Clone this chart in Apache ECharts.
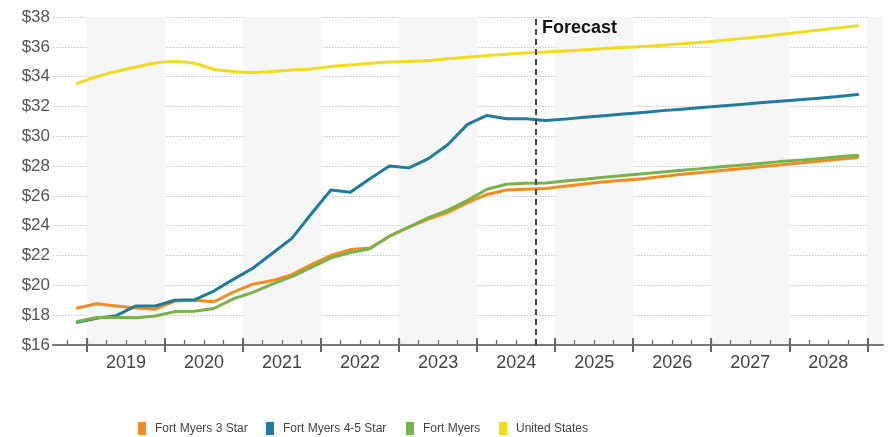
<!DOCTYPE html>
<html>
<head>
<meta charset="utf-8">
<script src="https://cdn.jsdelivr.net/npm/echarts@6/dist/echarts.min.js"></script>
<style>
html,body{margin:0;padding:0;background:#fff;}
#chart{width:888px;height:437px;}
</style>
</head>
<body>
<div id="chart"></div>
<script>
// ---- data ----
const quarters = [
  '2018 Q4',
  '2019 Q1','2019 Q2','2019 Q3','2019 Q4',
  '2020 Q1','2020 Q2','2020 Q3','2020 Q4',
  '2021 Q1','2021 Q2','2021 Q3','2021 Q4',
  '2022 Q1','2022 Q2','2022 Q3','2022 Q4',
  '2023 Q1','2023 Q2','2023 Q3','2023 Q4',
  '2024 Q1','2024 Q2','2024 Q3','2024 Q4',
  '2025 Q1','2025 Q2','2025 Q3','2025 Q4',
  '2026 Q1','2026 Q2','2026 Q3','2026 Q4',
  '2027 Q1','2027 Q2','2027 Q3','2027 Q4',
  '2028 Q1','2028 Q2','2028 Q3','2028 Q4'
];
const yearLabels = ['2019','2020','2021','2022','2023','2024','2025','2026','2027','2028'];
const shadedYears = [2019, 2021, 2023, 2025, 2027, 2029];
const forecastStart = '2024 Q4';
const forecastLabel = 'Forecast';
const yMin = 16, yMax = 38, yStep = 2;

const fortMyers3Star = [18.48,18.77,18.62,18.48,18.40,18.95,19.00,18.90,19.55,20.08,20.32,20.72,21.40,22.00,22.40,22.50,23.30,23.90,24.45,24.90,25.55,26.10,26.40,26.45,26.50,26.65,26.80,26.95,27.05,27.15,27.30,27.45,27.57,27.70,27.82,27.95,28.07,28.20,28.32,28.45,28.58];
const fortMyers45Star = [17.52,17.80,17.97,18.62,18.62,19.00,19.03,19.62,20.40,21.15,22.15,23.15,24.80,26.40,26.25,27.15,28.00,27.88,28.50,29.45,30.80,31.40,31.17,31.17,31.05,31.15,31.27,31.38,31.50,31.60,31.72,31.82,31.93,32.03,32.13,32.25,32.35,32.45,32.55,32.67,32.80];
const fortMyers = [17.58,17.85,17.85,17.82,17.95,18.24,18.26,18.45,19.10,19.53,20.08,20.58,21.20,21.85,22.20,22.45,23.30,23.90,24.55,25.05,25.70,26.45,26.78,26.85,26.87,27.00,27.12,27.25,27.37,27.48,27.60,27.72,27.83,27.95,28.05,28.17,28.30,28.40,28.50,28.62,28.73];
const unitedStates = [33.55,34.00,34.35,34.65,34.92,35.02,34.90,34.50,34.35,34.28,34.35,34.45,34.52,34.68,34.78,34.90,34.98,35.02,35.08,35.20,35.30,35.42,35.50,35.60,35.66,35.72,35.80,35.88,35.95,36.02,36.10,36.20,36.30,36.42,36.55,36.68,36.82,36.97,37.12,37.27,37.42];

const seriesNames = ['Fort Myers 3 Star','Fort Myers 4-5 Star','Fort Myers','United States'];
const seriesValues = [fortMyers3Star, fortMyers45Star, fortMyers, unitedStates];
const seriesColors = ['#F28C1F','#1E7C9E','#76B34A','#F3DB1B'];
const legendLefts = [138, 266, 406, 499];

// ---- helpers ----
function qCenter(q){ const p=q.split(' Q'); return +p[0] + (+p[1]-0.5)/4; }
function qStart(q){ const p=q.split(' Q'); return +p[0] + (+p[1]-1)/4; }
const xMin = 2018.5643, xMax = 2029.2;
const FONT = "'Liberation Sans', Arial, sans-serif";

const chart = echarts.init(document.getElementById('chart'), null, {renderer:'canvas'});

const lineSeries = seriesNames.map((n,k)=>({
  name:n, type:'line', xAxisIndex:0, yAxisIndex:0, z:3,
  data: quarters.map((q,i)=>[qCenter(q), seriesValues[k][i]]),
  showSymbol:false, symbol:'none', smooth: k===3 ? 0.3 : false,
  lineStyle:{color:seriesColors[k], width:3, cap:'round', join:'round'},
  itemStyle:{color:seriesColors[k]},
  emphasis:{disabled:true}
}));

const option = {
  animation:false,
  backgroundColor:'#fff',
  textStyle:{fontFamily:FONT},
  grid:[
    {left:53, right:5, top:17, bottom:92},
    {left:67.5, right:20.7, top:17, bottom:92},
    {left:87, right:20.7, top:17, bottom:92}
  ],
  xAxis:[
    {gridIndex:0, type:'value', min:xMin, max:xMax, z:4,
     axisLine:{show:true, lineStyle:{color:'#777', width:2}},
     axisTick:{show:false}, axisLabel:{show:false}, splitLine:{show:false}},
    {gridIndex:1, type:'category', data:quarters, boundaryGap:true, z:4,
     axisLine:{show:false}, axisLabel:{show:false},
     axisTick:{show:true, inside:true, length:5, interval:0, lineStyle:{color:'#666', width:1.2}}},
    {gridIndex:2, type:'category', data:yearLabels, boundaryGap:true, z:4,
     axisLine:{show:false},
     axisTick:{show:true, inside:false, length:7, interval:0, lineStyle:{color:'#666', width:2}},
     axisLabel:{show:true, interval:0, margin:9, color:'#444', fontSize:18, fontFamily:FONT}},
    {gridIndex:2, type:'category', data:yearLabels, boundaryGap:true, z:4, position:'bottom', offset:0,
     axisLine:{show:false}, axisLabel:{show:false},
     axisTick:{show:true, inside:true, length:7, interval:0, lineStyle:{color:'#666', width:2}}}
  ],
  yAxis:[
    {gridIndex:0, type:'value', min:yMin, max:yMax, interval:yStep, z:1,
     axisLine:{show:false}, axisTick:{show:false},
     axisLabel:{formatter:'${value}', color:'#555', fontSize:17, margin:3, fontFamily:FONT},
     splitLine:{show:true, lineStyle:{color:'#c4c4c4', width:1, type:[1.5,1.5]}}},
    {gridIndex:1, type:'value', min:0, max:1, show:false},
    {gridIndex:2, type:'value', min:0, max:1, show:false}
  ],
  legend: seriesNames.map((n,k)=>({
    data:[n], left:legendLefts[k], top:422, padding:0, icon:'rect', itemWidth:8, itemHeight:13,
    textStyle:{fontFamily:FONT, fontSize:12, color:'#444', padding:[0,0,0,4]}
  })),
  graphic:[
    {type:'text', left:542, top:19, z:10,
     style:{text:forecastLabel, fill:'#111', font:"bold 18px 'Liberation Sans', Arial, sans-serif"}}
  ],
  series:[
    {name:'bands', type:'line', xAxisIndex:0, yAxisIndex:0, data:[], z:0, silent:true,
     markArea:{silent:true, itemStyle:{color:'#f6f6f6'},
       data: shadedYears.map(y=>[{xAxis:y},{xAxis:Math.min(y+1, xMax)}])}},
    ...lineSeries,
    {name:'forecastLine', type:'line', xAxisIndex:0, yAxisIndex:0, data:[], z:5, silent:true,
     markLine:{silent:true, symbol:['none','none'], label:{show:false},
       lineStyle:{color:'#444', width:2, type:[6,4]},
       data:[{xAxis:qStart(forecastStart)}]}}
  ]
};
chart.setOption(option);
</script>
</body>
</html>
